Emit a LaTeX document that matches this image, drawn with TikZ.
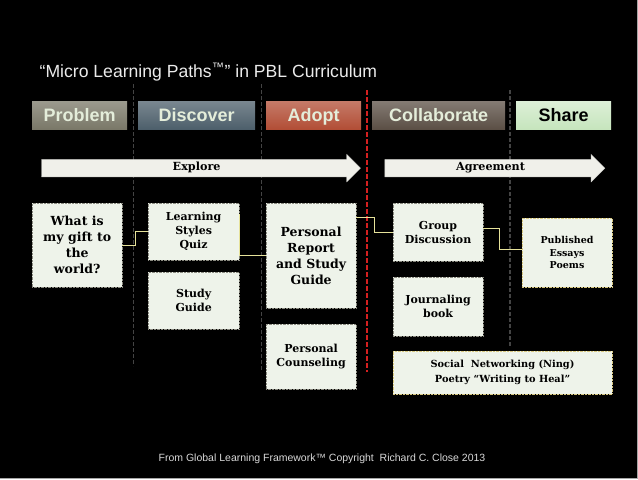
\documentclass[tikz,border=0pt]{standalone}
\usepackage{fontspec}
\setmainfont{DejaVu Serif}
\setsansfont{Liberation Sans}
\usetikzlibrary{positioning,shapes.arrows}

\definecolor{problemc}{HTML}{7A7868}
\definecolor{discoverc}{HTML}{4D5F6B}
\definecolor{adoptc}{HTML}{B24E36}
\definecolor{collabc}{HTML}{5B4F45}
\definecolor{sharec}{HTML}{C6E5BD}
\definecolor{bartext}{HTML}{E4EDDA}
\definecolor{boxfill}{HTML}{EEF3EA}
\definecolor{boxline}{HTML}{8A8A80}
\definecolor{goldline}{HTML}{D8C880}
\definecolor{linkc}{HTML}{E6E29A}
\definecolor{arrowc}{HTML}{F0F0EA}
\definecolor{sepc}{HTML}{444444}
\definecolor{redsep}{HTML}{D42020}

\begin{document}
\begin{tikzpicture}[x=1pt,y=-1pt,
	bar/.style={minimum height=28pt, inner sep=0pt, text=bartext, text height=14pt, text depth=2pt,
		font=\sffamily\bfseries\fontsize{18}{20}\selectfont},
	box/.style={draw=boxline, densely dotted, fill=boxfill, inner sep=2pt, align=center,
		text=black, font=\bfseries\fontsize{11}{14}\selectfont},
	bigbox/.style={box, font=\bfseries\fontsize{12.5}{16}\selectfont},
	goldbox/.style={box, draw=goldline},
	band/.style={single arrow, fill=arrowc, draw=arrowc!70!gray, thin, inner xsep=0pt,
		inner ysep=4pt, text height=7pt, text depth=2pt, single arrow head extend=5pt,
		font=\bfseries\fontsize{11.2}{12}\selectfont},
	sep/.style={sepc, line width=1.2pt, dash pattern=on 4pt off 2pt},
	link/.style={linkc, line width=0.8pt}]

	\fill [black] (0,0) rectangle (638,479);
	\draw [gray!70] (637.5,0) -- (637.5,478.5) -- (0,478.5);

	\node (title) [anchor=west, text=white!92!black, font=\sffamily\fontsize{17.6}{20}\selectfont]
		at (36,72) {“Micro Learning Paths\textsuperscript{™}” in PBL Curriculum};

	% phase separators
	\draw [sep] (133,84) -- (133,366);
	\draw [sep] (261,84) -- (261,372);
	\draw [sep] (510,90) -- (510,347);
	\draw [redsep, line width=1.8pt, dash pattern=on 5pt off 2pt] (367,90) -- (367,372);

	\node (problem) [bar, minimum width=95pt, top color=problemc!75!white, bottom color=problemc] at (79.5,115) {Problem};
	\node (discover) [bar, minimum width=117pt, top color=discoverc!75!white, bottom color=discoverc] at (196.5,115) {Discover};
	\node (adopt) [bar, minimum width=95pt, top color=adoptc!75!white, bottom color=adoptc] at (313.5,115) {Adopt};
	\node (collab) [bar, minimum width=133pt, top color=collabc!75!white, bottom color=collabc] at (438.5,115) {Collaborate};
	\node (share) [bar, minimum width=95pt, text=black, top color=sharec!60!white, bottom color=sharec] at (563.5,115) {Share};

	\node (explore) [band, minimum height=319pt] at (196.5,168) {Explore};
	\node (agree) [band, minimum height=220pt] at (490.5,168) {Agreement};

	\node (gift) [bigbox, minimum width=90pt, minimum height=84pt] at (77,245) {What is\\my gift to\\the\\world?};
	\node (quiz) [box, minimum width=91pt, minimum height=57pt] at (193.5,231.5) {Learning\\Styles\\Quiz};
	\node (sguide) [box, minimum width=91pt, minimum height=57pt] at (193.5,300.5) {Study\\Guide};
	\node (report) [bigbox, minimum width=90pt, minimum height=105pt] at (311,255.5) {Personal\\Report\\and Study\\Guide};
	\node (couns) [box, minimum width=90pt, minimum height=65pt] at (311,356.5) {Personal\\Counseling};
	\node (group) [box, minimum width=90pt, minimum height=58pt] at (438,232) {Group\\Discussion};
	\node (journal) [box, minimum width=90pt, minimum height=59pt] at (438,306.5) {Journaling\\book};
	\node (publ) [goldbox, minimum width=90pt, minimum height=69pt, font=\bfseries\fontsize{9.5}{12.5}\selectfont] at (567,252.5) {Published\\Essays\\Poems};
	\node (social) [goldbox, minimum width=219pt, minimum height=43pt, font=\bfseries\fontsize{9.8}{15}\selectfont] at (502.5,372.5) {Social\ \ Networking (Ning)\\Poetry “Writing to Heal”};

	\draw [link] (gift.east) -- ++(13,0) |- (quiz.west);
	\draw [link] ([yshift=18pt]quiz.east) |- (report.west);
	\draw [link] ([yshift=-14pt]report.north east) -- ++(18,0) |- (group.west);
	\draw [link] ([yshift=4pt]group.east) -- ++(16,0) |- ([yshift=3pt]publ.west);

	\node (credit) [anchor=west, text=white!85!black, font=\sffamily\fontsize{10.5}{12}\selectfont]
		at (155,459) {From Global Learning Framework™ Copyright\ \ Richard C. Close 2013};
\end{tikzpicture}
\end{document}
